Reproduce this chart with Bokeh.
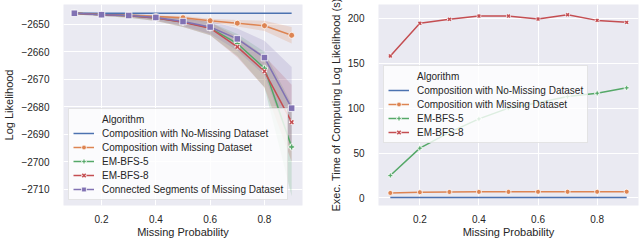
from bokeh.plotting import figure
from bokeh.layouts import row
from bokeh.models import Legend, LegendItem, FixedTicker, Range1d
from bokeh.embed import file_html
from bokeh.resources import INLINE

# ---------------- data ----------------
missing_prob = [0.1, 0.2, 0.3, 0.4, 0.5, 0.6, 0.7, 0.8, 0.9]

# Log likelihood (left panel)
ll_no_missing = [-2646.0, -2646.0, -2646.0, -2646.0, -2646.0, -2646.0, -2646.0, -2646.0, -2646.0]
ll_missing = [-2646.0, -2646.4, -2646.7, -2647.2, -2647.6, -2648.7, -2649.6, -2650.5, -2654.0]
ll_em5 = [-2646.0, -2646.5, -2646.9, -2647.7, -2649.2, -2651.3, -2657.0, -2666.0, -2694.6]
ll_em8 = [-2646.0, -2646.5, -2646.9, -2647.7, -2649.3, -2651.4, -2658.2, -2667.1, -2685.6]
ll_segments = [-2646.0, -2646.5, -2646.8, -2647.5, -2649.0, -2651.0, -2655.3, -2662.1, -2680.5]

# confidence bands (left panel)
ll_missing_lo = [-2646.3, -2646.8, -2647.1, -2647.6, -2648.2, -2649.4, -2650.8, -2652.4, -2657.0]
ll_missing_hi = [-2645.7, -2646.0, -2646.3, -2646.8, -2647.0, -2648.0, -2648.4, -2648.7, -2651.0]
ll_em5_lo = [-2646.4, -2647.0, -2647.6, -2648.8, -2651.0, -2654.0, -2661.5, -2673.0, -2712.5]
ll_em5_hi = [-2645.6, -2646.0, -2646.3, -2646.8, -2647.8, -2649.3, -2653.5, -2660.0, -2679.0]
ll_em8_lo = [-2646.4, -2647.0, -2647.6, -2648.8, -2651.0, -2654.0, -2662.0, -2673.0, -2700.0]
ll_em8_hi = [-2645.6, -2646.0, -2646.3, -2646.8, -2647.8, -2649.3, -2654.5, -2661.5, -2672.0]
ll_segments_lo = [-2646.4, -2647.0, -2647.4, -2648.5, -2650.6, -2653.5, -2659.5, -2668.5, -2695.0]
ll_segments_hi = [-2645.6, -2646.0, -2646.2, -2646.6, -2647.6, -2648.8, -2651.5, -2656.0, -2665.5]

# Execution time (right panel)
t_no_missing = [0.4, 0.4, 0.4, 0.4, 0.4, 0.4, 0.4, 0.4, 0.4]
t_missing = [5.5, 6.3, 6.6, 6.7, 6.7, 6.8, 6.8, 6.8, 6.9]
t_em5 = [25.0, 55.4, 73.0, 88.0, 100.0, 106.0, 113.0, 116.6, 122.6]
t_em8 = [158.2, 194.5, 199.0, 202.6, 202.6, 199.3, 204.0, 197.8, 195.6]

x_ticks = [0.2, 0.4, 0.6, 0.8]
ll_ticks = [-2710, -2700, -2690, -2680, -2670, -2660, -2650]
t_ticks = [0, 50, 100, 150, 200]

names = ["Composition with No-Missing Dataset", "Composition with Missing Dataset",
         "EM-BFS-5", "EM-BFS-8", "Connected Segments of Missing Dataset"]

# ---------------- style ----------------
BLUE, ORANGE, GREEN, RED, PURPLE = "#4C72B0", "#DD8452", "#55A868", "#C44E52", "#8172B3"
FONT = "Liberation Sans"
TXT = "#262626"


def style(p, yticks, ylabel):
    p.background_fill_color = "#EAEAF2"
    p.border_fill_color = "white"
    p.outline_line_color = None
    p.grid.grid_line_color = "white"
    p.grid.grid_line_width = 1
    p.xaxis.ticker = FixedTicker(ticks=x_ticks)
    p.yaxis.ticker = FixedTicker(ticks=yticks)
    p.yaxis.major_label_overrides = {t: str(t).replace("-", "\u2212") for t in yticks}
    p.xaxis.axis_label = "Missing Probability"
    p.yaxis.axis_label = ylabel
    for ax in (p.xaxis[0], p.yaxis[0]):
        ax.axis_line_color = None
        ax.major_tick_line_color = None
        ax.minor_tick_line_color = None
        ax.major_label_text_font = FONT
        ax.major_label_text_font_size = "10px"
        ax.major_label_text_color = TXT
        ax.axis_label_text_font = FONT
        ax.axis_label_text_font_style = "normal"
        ax.axis_label_text_color = TXT
        ax.axis_label_text_font_size = "11px"
    p.xaxis.major_label_standoff = 3
    p.xaxis.axis_label_standoff = 0
    p.yaxis.major_label_standoff = 8
    p.yaxis.axis_label_standoff = 3


def make_legend(p, items, loc):
    dummy = p.line(x=[], y=[], line_alpha=0)
    leg_items = [LegendItem(label="Algorithm", renderers=[dummy])]
    for lab, rs in items:
        leg_items.append(LegendItem(label=lab, renderers=rs))
    leg = Legend(items=leg_items, location=loc)
    leg.label_text_font = FONT
    leg.label_text_font_size = "10px"
    leg.label_text_color = TXT
    leg.label_height = 12
    leg.glyph_height = 12
    leg.glyph_width = 21
    leg.spacing = 2
    leg.padding = 4
    leg.margin = 0
    leg.label_standoff = 8
    leg.background_fill_color = "white"
    leg.background_fill_alpha = 0.8
    leg.border_line_color = "#CCCCCC"
    leg.border_line_width = 1
    p.add_layout(leg)


def series(p, y, color, marker, size, lw=1.5):
    rs = [p.line(missing_prob, y, line_color=color, line_width=lw)]
    if marker == "x":
        rs.append(p.scatter(missing_prob, y, marker="x", size=size, line_color="white", line_width=3.2))
        rs.append(p.scatter(missing_prob, y, marker="x", size=size, line_color=color, line_width=1.6))
    elif marker is not None:
        rs.append(p.scatter(missing_prob, y, marker=marker, size=size, fill_color=color,
                            line_color="white", line_width=0.8))
    return rs


# ---------------- left panel ----------------
p1 = figure(width=318, height=240, output_backend="svg", toolbar_location=None,
            x_range=Range1d(0.06, 0.94), y_range=Range1d(-2715.9, -2642.8),
            min_border_left=52, min_border_right=16, min_border_top=4, min_border_bottom=33)
style(p1, ll_ticks, "Log Likelihood")

for lo, hi, c in [(ll_missing_lo, ll_missing_hi, ORANGE), (ll_em5_lo, ll_em5_hi, GREEN),
                  (ll_em8_lo, ll_em8_hi, RED), (ll_segments_lo, ll_segments_hi, PURPLE)]:
    p1.varea(x=missing_prob, y1=lo, y2=hi, fill_color=c, fill_alpha=0.2)

r_nm = series(p1, ll_no_missing, BLUE, None, 0)
r_m = series(p1, ll_missing, ORANGE, "circle", 6)
r_5 = series(p1, ll_em5, GREEN, "plus", 6)
r_8 = series(p1, ll_em8, RED, "x", 5)
r_s = series(p1, ll_segments, PURPLE, "square", 6.5)
make_legend(p1, list(zip(names, [r_nm, r_m, r_5, r_8, r_s])), (5, 5))

# ---------------- right panel ----------------
p2 = figure(width=322, height=240, output_backend="svg", toolbar_location=None,
            x_range=Range1d(0.06, 0.94), y_range=Range1d(-8.5, 215.5),
            min_border_left=60, min_border_right=2, min_border_top=4, min_border_bottom=33)
style(p2, t_ticks, "Exec. Time of Computing Log Likelihood (s)")

q_nm = series(p2, t_no_missing, BLUE, None, 0)
q_m = series(p2, t_missing, ORANGE, "circle", 5)
q_5 = series(p2, t_em5, GREEN, "plus", 5)
q_8 = series(p2, t_em8, RED, "x", 4)
make_legend(p2, list(zip(names[:4], [q_nm, q_m, q_5, q_8])), (5, 62))

layout = row(p1, p2)
open("out.html", "w").write(file_html(layout, INLINE))
